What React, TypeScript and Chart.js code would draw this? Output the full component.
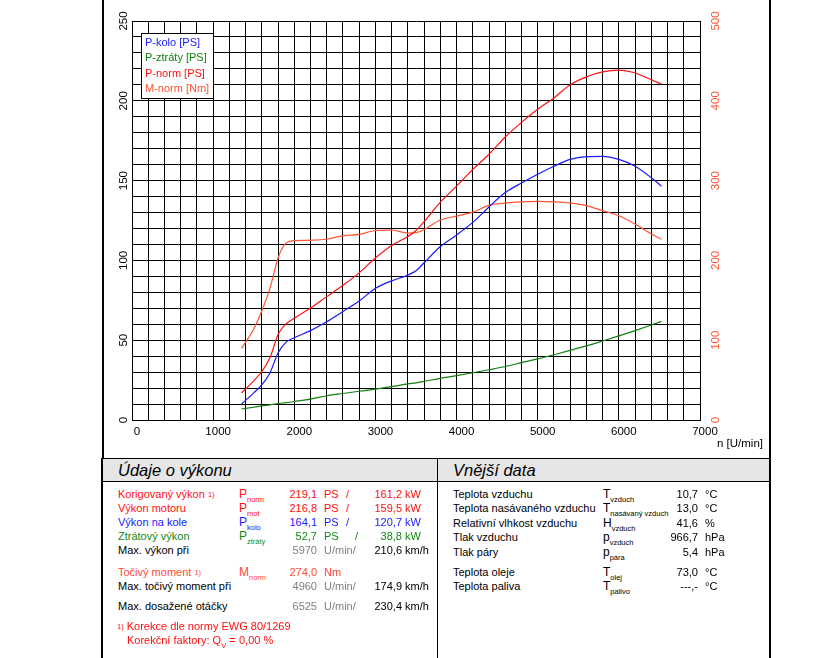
import React, { useEffect, useRef } from 'react';
import { Chart, registerables } from 'chart.js';

Chart.register(...registerables);

const FONT = '"Liberation Sans", Arial, Helvetica, sans-serif';

// ---- chart data ----
const rpm = [1350, 1500, 1600, 1700, 1800, 1900, 2000, 2200, 2400, 2600, 2800, 3000, 3200, 3400, 3500, 3600, 3800, 4000, 4200, 4400, 4600, 4800, 5000, 5200, 5400, 5600, 5800, 6000, 6200, 6400, 6525];
const pKolo = [10, 17, 22, 29.5, 42, 48.8, 51.5, 56, 61.5, 68, 74.5, 82.5, 87.2, 90.8, 93.5, 98.5, 108.7, 115.9, 123.8, 133.5, 142.5, 148.5, 154, 159, 163.3, 165, 165.2, 163.3, 159, 151.8, 146.5];
const pZtraty = [6.9, 8, 8.8, 9.5, 10.3, 10.9, 11.6, 13.1, 15.2, 16.6, 18.0, 19.4, 20.9, 22.6, 23.3, 24.2, 26.1, 27.8, 29.6, 31.5, 33.5, 35.9, 38.3, 40.9, 43.6, 46.4, 49.5, 52.7, 56, 59.5, 61.8];
const pNorm = [17, 24.5, 30.4, 39, 53.5, 60.3, 63.8, 70.2, 77.3, 84.4, 92.2, 101.5, 109.3, 115, 118.7, 124.3, 136.5, 146.5, 157, 166.5, 177.3, 186.5, 194.7, 201.8, 210, 215, 218.1, 219.2, 217.4, 213.2, 210.5];
const mNorm = [89.8, 114, 137, 165, 203, 222, 224.8, 225.3, 226.5, 231, 232.5, 237.5, 238, 234.3, 234.8, 238.5, 250.6, 255.5, 260.5, 269, 271.8, 273.3, 273.9, 273.3, 271.8, 268.7, 262.3, 256, 245.5, 233, 226.5];

const seriesLabels = ['P-kolo [PS]', 'P-ztráty [PS]', 'P-norm [PS]', 'M-norm [Nm]'];
const xLabelStep = 1000;
const yLabelStep = 50;
const y2LabelStep = 100;

const BLUE = '#1a1aff';
const GREEN = '#118011';
const RED = '#ff1010';
const ORANGE = '#ff5533';
const GREY = '#808080';

// ---- table data ----
const powerRows = [
  { y: 494, label: 'Korigovaný výkon ', sup: '1)', color: RED, sym: 'P', sub: 'norm', v1: '219,1', u1: 'PS', sl: 346, v2: '161,2', u2: 'kW' },
  { y: 508, label: 'Výkon motoru', sup: '', color: RED, sym: 'P', sub: 'mot', v1: '216,8', u1: 'PS', sl: 346, v2: '159,5', u2: 'kW' },
  { y: 522, label: 'Výkon na kole', sup: '', color: '#1a1aff', sym: 'P', sub: 'kolo', v1: '164,1', u1: 'PS', sl: 346, v2: '120,7', u2: 'kW' },
  { y: 536, label: 'Ztrátový výkon', sup: '', color: '#128a12', sym: 'P', sub: 'ztráty', v1: '52,7', u1: 'PS', sl: 355, v2: '38,8', u2: 'kW' },
];
const speedRows = [
  { y: 550, label: 'Max. výkon při', n: '5970', v: '210,6' },
  { y: 586, label: 'Max. točivý moment při', n: '4960', v: '174,9' },
  { y: 606, label: 'Max. dosažené otáčky', n: '6525', v: '230,4' },
];
const extRows = [
  { y: 494, label: 'Teplota vzduchu', sym: 'T', sub: 'vzduch', v: '10,7', u: '°C' },
  { y: 508, label: 'Teplota nasávaného vzduchu', sym: 'T', sub: 'nasávaný vzduch', v: '13,0', u: '°C' },
  { y: 523, label: 'Relativní vlhkost vzduchu', sym: 'H', sub: 'vzduch', v: '41,6', u: '%' },
  { y: 537, label: 'Tlak vzduchu', sym: 'p', sub: 'vzduch', v: '966,7', u: 'hPa' },
  { y: 552, label: 'Tlak páry', sym: 'p', sub: 'pára', v: '5,4', u: 'hPa' },
  { y: 572, label: 'Teplota oleje', sym: 'T', sub: 'olej', v: '73,0', u: '°C' },
  { y: 586, label: 'Teplota paliva', sym: 'T', sub: 'palivo', v: '---,-', u: '°C' },
];

const legendBoxPlugin = {
  id: 'legendBox',
  afterDatasetsDraw(chart: any) {
    const { ctx, chartArea } = chart;
    const x = chartArea.left + 9;
    const y = chartArea.top + 12;
    const w = 72;
    const h = 65;
    ctx.save();
    ctx.fillStyle = '#ffffff';
    ctx.fillRect(x, y, w, h);
    ctx.strokeStyle = '#000';
    ctx.lineWidth = 1;
    ctx.strokeRect(Math.round(x) + 0.5, Math.round(y) + 0.5, w, h);
    ctx.font = `11px ${FONT}`;
    ctx.textBaseline = 'middle';
    ctx.textAlign = 'left';
    chart.data.datasets.forEach((ds: any, i: number) => {
      ctx.fillStyle = ds.borderColor;
      ctx.fillText(ds.label, x + 4, y + 10 + i * 15.3);
    });
    ctx.restore();
  },
};

function T(props: { x: number; y: number; c?: string; s?: number; right?: boolean; italic?: boolean; children: React.ReactNode }) {
  const s = props.s ?? 11;
  const lh = Math.round(s * 1.3);
  return (
    <span
      style={{
        position: 'absolute',
        left: props.x,
        top: props.y - lh / 2,
        lineHeight: `${lh}px`,
        fontSize: s,
        color: props.c ?? '#000',
        whiteSpace: 'nowrap',
        fontStyle: props.italic ? 'italic' : 'normal',
        transform: props.right ? 'translateX(-100%)' : undefined,
        fontFamily: FONT,
      }}
    >
      {props.children}
    </span>
  );
}

const Sub = ({ t }: { t: string }) => (
  <span style={{ fontSize: 7.5, position: 'relative', top: 3.5 }}>{t}</span>
);
const Sup = ({ t }: { t: string }) => (
  <span style={{ fontSize: 7.5, position: 'relative', top: -1 }}>{t}</span>
);

function Line({ x, y, w, h, bg = '#000' }: { x: number; y: number; w: number; h: number; bg?: string }) {
  return <div style={{ position: 'absolute', left: x, top: y, width: w, height: h, background: bg }} />;
}

export default function App() {
  const ref = useRef<HTMLCanvasElement>(null);

  useEffect(() => {
    const pts = (vals: number[]) => rpm.map((x, i) => ({ x, y: vals[i] }));
    const tickFont = { family: FONT, size: 11.5 };
    const mk = (label: string, data: number[], color: string, axis: string) => ({
      label,
      data: pts(data),
      borderColor: color,
      backgroundColor: color,
      borderWidth: 1.2,
      pointRadius: 0,
      fill: false,
      cubicInterpolationMode: 'monotone' as const,
      yAxisID: axis,
    });
    const chart = new Chart(ref.current!, {
      type: 'line',
      data: {
        datasets: [
          mk(seriesLabels[0], pKolo, BLUE, 'y'),
          mk(seriesLabels[1], pZtraty, GREEN, 'y'),
          mk(seriesLabels[2], pNorm, RED, 'y'),
          mk(seriesLabels[3], mNorm, ORANGE, 'y2'),
        ],
      },
      options: {
        animation: false,
        responsive: false,
        events: [],
        layout: { padding: { left: 103, right: 88, top: 21, bottom: 0 } },
        plugins: { legend: { display: false }, tooltip: { enabled: false } },
        scales: {
          x: {
            type: 'linear',
            min: 0,
            max: 7000,
            ticks: {
              stepSize: 200,
              autoSkip: false,
              maxRotation: 0,
              minRotation: 0,
              labelOffset: 5,
              padding: 5,
              color: '#000',
              font: tickFont,
              callback: (v: any) => (Number(v) % xLabelStep === 0 ? String(v) : ''),
            },
            grid: { color: '#000', lineWidth: 1, drawTicks: false },
            border: { color: '#000', width: 1 },
            afterFit: (s: any) => { s.height = 38; },
          },
          y: {
            type: 'linear',
            position: 'left',
            min: 0,
            max: 250,
            ticks: {
              stepSize: 10,
              autoSkip: false,
              minRotation: 90,
              maxRotation: 90,
              crossAlign: 'center',
              padding: -1,
              color: '#000',
              font: tickFont,
              callback: (v: any) => (Number(v) % yLabelStep === 0 ? String(v) : ''),
            },
            grid: { color: '#000', lineWidth: 1, drawTicks: false },
            border: { color: '#000', width: 1 },
            afterFit: (s: any) => { s.width = 29; },
          },
          y2: {
            type: 'linear',
            position: 'right',
            min: 0,
            max: 500,
            ticks: {
              stepSize: 20,
              autoSkip: false,
              minRotation: 90,
              maxRotation: 90,
              crossAlign: 'center',
              padding: 6,
              color: ORANGE,
              font: tickFont,
              callback: (v: any) => (Number(v) % y2LabelStep === 0 ? String(v) : ''),
            },
            grid: { display: false, drawTicks: false },
            border: { display: false },
            afterFit: (s: any) => { s.width = 30; },
          },
        },
      } as any,
      plugins: [legendBoxPlugin],
    });
    return () => chart.destroy();
  }, []);

  return (
    <div style={{ position: 'absolute', left: 0, top: 0, width: 818, height: 658, overflow: 'hidden', background: '#fff', fontFamily: FONT }}>
      <canvas ref={ref} width={818} height={458} style={{ position: 'absolute', left: 0, top: 0, width: 818, height: 458 }} />
      <T x={717} y={443} s={11.5}>n [U/min]</T>

      {/* frames */}
      <Line x={102} y={459} w={667} h={22} bg="#e6e6e6" />
      <Line x={102} y={0} w={1.5} h={459} />
      <Line x={769} y={0} w={1.5} h={459} />
      <Line x={101} y={457.5} w={669.5} h={1.5} />
      <Line x={101} y={458} w={1.5} h={200} />
      <Line x={769} y={458} w={1.5} h={200} />
      <Line x={436.5} y={458} w={1.5} h={200} />
      <Line x={101} y={480.5} w={669.5} h={1.2} />

      {/* left table */}
      <T x={118} y={470} s={16.5} italic>Údaje o výkonu</T>
      {powerRows.map((r) => (
        <React.Fragment key={r.label}>
          <T x={118} y={r.y} c={r.color}>{r.label}{r.sup ? <Sup t={r.sup} /> : null}</T>
          <T x={239} y={r.y} c={r.color} s={12}>{r.sym}<Sub t={r.sub} /></T>
          <T x={317} y={r.y} c={r.color} right>{r.v1}</T>
          <T x={324} y={r.y} c={r.color}>{r.u1}</T>
          <T x={r.sl} y={r.y} c={r.color}>/</T>
          <T x={402} y={r.y} c={r.color} right>{r.v2}</T>
          <T x={405} y={r.y} c={r.color}>{r.u2}</T>
        </React.Fragment>
      ))}
      {speedRows.map((r) => (
        <React.Fragment key={r.label}>
          <T x={118} y={r.y}>{r.label}</T>
          <T x={317} y={r.y} c={GREY} right>{r.n}</T>
          <T x={324} y={r.y} c={GREY}>U/min/</T>
          <T x={402} y={r.y} right>{r.v}</T>
          <T x={405} y={r.y}>km/h</T>
        </React.Fragment>
      ))}
      <T x={118} y={572} c="#ff4a3a">Točivý moment <Sup t="1)" /></T>
      <T x={239} y={572} c="#ff4a3a" s={12}>M<Sub t="norm" /></T>
      <T x={317} y={572} c="#ff4a3a" right>274,0</T>
      <T x={324} y={572} c="#ff4a3a">Nm</T>
      <T x={117} y={626} c={RED}><Sup t="1)" /> Korekce dle normy EWG 80/1269</T>
      <T x={127} y={640} c={RED}>Korekční faktory: Q<Sub t="V" /> =</T>
      <T x={239} y={640} c={RED}>0,00 %</T>

      {/* right table */}
      <T x={453} y={470} s={16.5} italic>Vnější data</T>
      {extRows.map((r) => (
        <React.Fragment key={r.label}>
          <T x={453} y={r.y}>{r.label}</T>
          <T x={603} y={r.y} s={12}>{r.sym}<Sub t={r.sub} /></T>
          <T x={698} y={r.y} right>{r.v}</T>
          <T x={705} y={r.y}>{r.u}</T>
        </React.Fragment>
      ))}
    </div>
  );
}
